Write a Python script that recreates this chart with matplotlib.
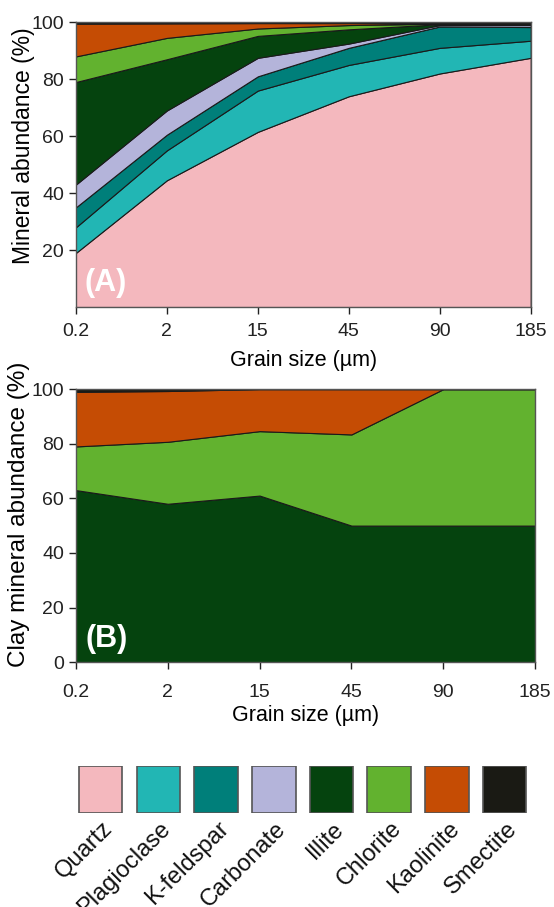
import numpy as np
import matplotlib
matplotlib.use("Agg")
import matplotlib.pyplot as plt

plt.rcParams['font.family'] = ['Liberation Sans', 'DejaVu Sans']

grain_sizes = ["0.2", "2", "15", "45", "90", "185"]

minerals = ["Quartz", "Plagioclase", "K-feldspar", "Carbonate",
            "Illite", "Chlorite", "Kaolinite", "Smectite"]
colors = ["#F4B8BE", "#22B6B4", "#007F7A", "#B4B4DA",
          "#05430E", "#62B22F", "#C54C04", "#1A1A14"]

# (A) bulk mineralogy, % per grain-size fraction
quartz = [19, 44.5, 61.5, 74, 82, 87.5]
plagioclase = [9, 10.5, 14.5, 11, 9, 6]
kfeldspar = [7, 5.5, 5, 6, 7.5, 4.8]
carbonate = [8, 8.5, 6.5, 1.5, 0.5, 0.7]
illite_a = [36, 18, 7.7, 5, 0.3, 0.3]
chlorite_a = [9, 7.5, 2.6, 1.5, 0.2, 0.1]
kaolinite_a = [11.5, 5.1, 1.9, 0.7, 0.1, 0.1]
smectite_a = [0.5, 0.4, 0.3, 0.3, 0.4, 0.5]

# (B) clay mineralogy
illite_b = [63, 58, 61, 50, 50, 50]
chlorite_b = [16, 22.7, 23.6, 33.4, 50, 50]
kaolinite_b = [20, 18.6, 15.4, 16.6, 0, 0]
smectite_b = [1, 0.7, 0, 0, 0, 0]

x = np.arange(len(grain_sizes))
tick_kw = dict(labelsize=14, length=5, width=1, colors="#222222")

fig = plt.figure(figsize=(5.54, 9.07), dpi=100)

axA = fig.add_axes([0.137, 0.6615, 0.821, 0.314])
axA.stackplot(x, quartz, plagioclase, kfeldspar, carbonate, illite_a,
              chlorite_a, kaolinite_a, smectite_a, colors=colors,
              edgecolor="#1a1a1a", linewidth=0.8)
axA.set_xlim(0, 5)
axA.set_ylim(0, 100)
axA.set_yticks([20, 40, 60, 80, 100])
axA.set_xticks(x)
axA.set_xticklabels(grain_sizes)
axA.tick_params(**tick_kw)
axA.tick_params(axis="x", pad=6.5)
axA.set_xlabel("Grain size (µm)", fontsize=15.5, labelpad=7)
axA.set_ylabel("Mineral abundance (%)", fontsize=16.5)
axA.yaxis.set_label_coords(-0.09, 0.565)
axA.text(0.02, 0.03, "(A)", transform=axA.transAxes, color="white",
         fontsize=22, fontweight="bold", ha="left", va="bottom")

axB = fig.add_axes([0.137, 0.270, 0.829, 0.301])
axB.stackplot(x, illite_b, chlorite_b, kaolinite_b, smectite_b,
              colors=colors[4:], edgecolor="#1a1a1a", linewidth=0.8)
axB.set_xlim(0, 5)
axB.set_ylim(0, 100)
axB.set_yticks([0, 20, 40, 60, 80, 100])
axB.set_xticks(x)
axB.set_xticklabels(grain_sizes)
axB.tick_params(**tick_kw)
axB.tick_params(axis="x", pad=10.5)
axB.set_xlabel("Grain size (µm)", fontsize=15.5, labelpad=3.5)
axB.set_ylabel("Clay mineral abundance (%)", fontsize=17.5)
axB.yaxis.set_label_coords(-0.100, 0.542)
axB.text(0.02, 0.03, "(B)", transform=axB.transAxes, color="white",
         fontsize=22, fontweight="bold", ha="left", va="bottom")

for ax in (axA, axB):
    for s in ax.spines.values():
        s.set_color("#555555")
        s.set_linewidth(1)

# legend row
axL = fig.add_axes([71.8 / 554, 1 - 813 / 907, 461.6 / 554, 47 / 907])
pos = np.arange(len(minerals))
axL.bar(pos, 1, width=0.756, color=colors, edgecolor="#555555",
        linewidth=1.2, align="center")
axL.set_xlim(-0.5, 7.5)
axL.set_ylim(0, 1)
axL.axis("off")
for p, name in zip(pos, minerals):
    axL.text(p + 0.02, -0.1, name, rotation=45, rotation_mode="anchor",
             ha="right", va="top", fontsize=17, color="#111111",
             clip_on=False)

fig.savefig("out.png", dpi=100)
